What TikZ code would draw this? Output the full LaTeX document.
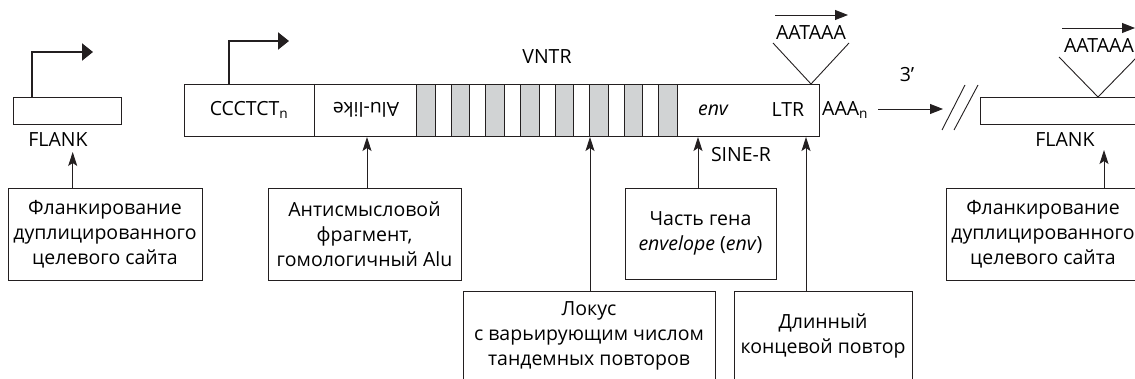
\documentclass[tikz,border=0pt]{standalone}
\usepackage{fontspec}
\setmainfont{Open Sans}
\usetikzlibrary{arrows.meta}
\definecolor{vntrgray}{RGB}{209,211,212}
\definecolor{linegray}{RGB}{35,31,32}

\begin{document}
\begin{tikzpicture}[x=1pt, y=-1pt,
        seg/.style={draw=linegray, line width=0.9pt},
        repeatbox/.style={draw=linegray, line width=0.9pt, fill=vntrgray},
        infobox/.style={draw=linegray, line width=0.9pt, align=center, inner sep=0pt, font=\fontsize{19.5}{25}\selectfont},
        lbl/.style={inner sep=0pt, font=\fontsize{19.5}{23}\selectfont},
        pointer/.style={draw=linegray, line width=0.9pt, -{Stealth[length=14pt, width=9pt, inset=3pt]}},
        startsite/.style={draw=linegray, line width=2.2pt, -{Triangle[length=11pt, width=17pt]}},
        signal/.style={draw=linegray, line width=0.9pt, -{Triangle[length=13pt, width=10pt]}}
    ]
        \useasboundingbox (0,0) rectangle (1135,379);
        \clip (0,0) rectangle (1135,379);

        % Left flank
        \draw[seg] (13,97) rectangle (121,124);
        \coordinate (start1) at (32,97);
        \draw[startsite] (start1) |- (93,52);
        \node[lbl] (flank1) at (58,140) {FLANK};

        % Main element
        \draw[seg] (184,84) rectangle (819,136);
        \draw[seg] (314,84) -- (314,136);
        \foreach \i in {0,...,7} {
            \draw[repeatbox] ({416.7+34.6*\i},84) rectangle ({435.3+34.6*\i},136);
        }
        \coordinate (start2) at (229,84);
        \draw[startsite] (start2) |- (289,41);
        \node[lbl] (ccct) at (249,110) {CCCTCT\textsubscript{n}};
        \node[lbl, rotate=180] (alu) at (366,110) {Alu-like};
        \node[lbl] (vntr) at (547,57) {VNTR};
        \node[lbl] (env) at (713,110) {\itshape env};
        \node[lbl] (ltr) at (788,110) {LTR};
        \node[lbl] (siner) at (741,155) {SINE-R};

        % Poly-A signal on LTR
        \coordinate (polya1) at (811,84);
        \draw[seg] (773,43) -- (polya1) -- (849,43);
        \node[lbl] (aataaa1) at (811,33) {AATAAA};
        \draw[signal] (775,15) -- (848,15);

        % 3' end and break
        \node[lbl, anchor=west] (aaan) at (822,110) {AAA\textsubscript{n}};
        \coordinate (brk) at (943,109);
        \draw[signal] (878,109) -- (brk);
        \node[lbl] (three) at (907,75) {3’};
        \draw[seg] (942,130) -- (965,85);
        \draw[seg] (954,130) -- (978,85);

        % Right flank
        \draw[seg] (980,97) rectangle (1150,124);
        \coordinate (polya2) at (1098,97);
        \draw[seg] (1059,57) -- (polya2) -- (1137,57);
        \node[lbl] (aataaa2) at (1099,46) {AATAAA};
        \draw[signal] (1062,28) -- (1135,28);
        \node[lbl] (flank2) at (1065,140) {FLANK};

        % Description boxes
        \node[infobox, minimum width=194pt, minimum height=92pt] (dupl1) at (105,234)
            {Фланкирование\\дуплицированного\\целевого сайта};
        \node[infobox, minimum width=193pt, minimum height=92pt] (antis) at (364.5,234)
            {Антисмысловой\\фрагмент,\\гомологичный Alu};
        \node[infobox, minimum width=151pt, minimum height=91pt] (envbox) at (700.5,233.5)
            {Часть гена\\\textit{envelope} (\textit{env})};
        \node[infobox, minimum width=252pt, minimum height=90pt] (locus) at (589,336)
            {Локус\\с варьирующим числом\\тандемных повторов};
        \node[infobox, minimum width=178pt, minimum height=90pt] (ltrbox) at (823,336)
            {Длинный\\концевой повтор};
        \node[infobox, minimum width=194pt, minimum height=92pt] (dupl2) at (1043,234)
            {Фланкирование\\дуплицированного\\целевого сайта};

        % Pointers
        \coordinate (p1) at (72.7,152);
        \coordinate (p2) at (367,137);
        \coordinate (p3) at (590,137);
        \coordinate (p4) at (698,137);
        \coordinate (p5) at (806,137);
        \coordinate (p6) at (1104,150);
        \draw[pointer] (dupl1.north -| p1) -- (p1);
        \draw[pointer] (antis.north -| p2) -- (p2);
        \draw[pointer] (locus.north -| p3) -- (p3);
        \draw[pointer] (envbox.north -| p4) -- (p4);
        \draw[pointer] (ltrbox.north -| p5) -- (p5);
        \draw[pointer] (dupl2.north -| p6) -- (p6);

    \end{tikzpicture}
\end{document}
